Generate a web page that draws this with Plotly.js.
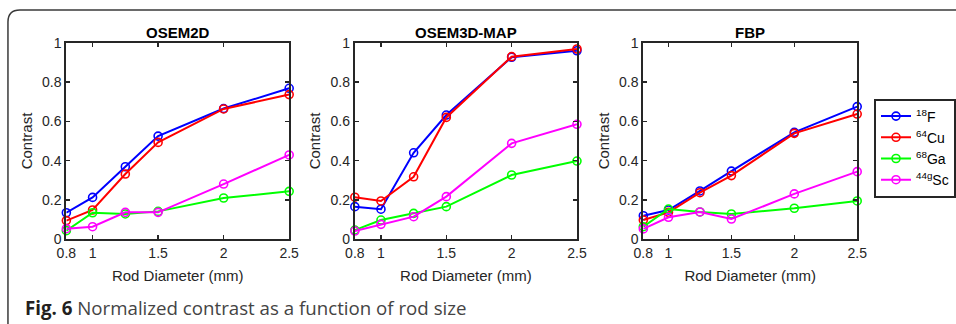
<!DOCTYPE html>
<html>
<head>
<meta charset="utf-8">
<script src="https://cdn.plot.ly/plotly-3.0.1.min.js"></script>
<style>
html,body{margin:0;padding:0;background:#fff;}
#chart{width:956px;height:324px;}
</style>
</head>
<body>
<div id="chart"></div>
<script>
// ---- data ----
const rodDiameter = [0.8, 1, 1.25, 1.5, 2, 2.5];
const xTickVals = [0.8, 1, 1.5, 2, 2.5];
const xTickText = ["0.8", "1", "1.5", "2", "2.5"];
const yTickVals = [0, 0.2, 0.4, 0.6, 0.8, 1];
const yTickText = ["0", "0.2", "0.4", "0.6", "0.8", "1"];
const panelTitles = ["OSEM2D", "OSEM3D-MAP", "FBP"];
const seriesNames = ["<sup>18</sup>F", "<sup>64</sup>Cu", "<sup>68</sup>Ga", "<sup>44g</sup>Sc"];
const seriesColors = ["#0000ff", "#ff0000", "#00ff00", "#ff00ff"];

// OSEM2D
const osem2d_F  = [0.135, 0.213, 0.369, 0.525, 0.665, 0.768];
const osem2d_Cu = [0.095, 0.149, 0.332, 0.493, 0.663, 0.736];
const osem2d_Ga = [0.044, 0.135, 0.129, 0.142, 0.210, 0.244];
const osem2d_Sc = [0.054, 0.064, 0.137, 0.137, 0.281, 0.429];
// OSEM3D-MAP
const osem3d_F  = [0.166, 0.153, 0.440, 0.632, 0.926, 0.959];
const osem3d_Cu = [0.214, 0.195, 0.318, 0.620, 0.929, 0.968];
const osem3d_Ga = [0.047, 0.098, 0.132, 0.166, 0.327, 0.398];
const osem3d_Sc = [0.042, 0.076, 0.115, 0.217, 0.488, 0.585];
// FBP
const fbp_F  = [0.120, 0.149, 0.246, 0.347, 0.544, 0.675];
const fbp_Cu = [0.098, 0.137, 0.237, 0.324, 0.539, 0.637];
const fbp_Ga = [0.064, 0.154, 0.139, 0.129, 0.158, 0.195];
const fbp_Sc = [0.053, 0.112, 0.139, 0.103, 0.231, 0.344];

const panels = [
  [osem2d_F, osem2d_Cu, osem2d_Ga, osem2d_Sc],
  [osem3d_F, osem3d_Cu, osem3d_Ga, osem3d_Sc],
  [fbp_F, fbp_Cu, fbp_Ga, fbp_Sc]
];

// ---- layout geometry (pixels) ----
const W = 956, H = 324;
const px = v => v / W;
const py = v => 1 - v / H;
const xDomains = [[66.7, 290.7], [356.7, 580], [646.7, 861.7]];
const yDomain = [py(239.3), py(42.7)];

const traces = [];
panels.forEach((series, p) => {
  series.forEach((ys, s) => {
    traces.push({
      x: rodDiameter, y: ys,
      type: 'scatter', mode: 'lines+markers',
      name: seriesNames[s],
      legendgroup: 'g' + s,
      showlegend: p === 2,
      xaxis: p === 0 ? 'x' : 'x' + (p + 1),
      yaxis: p === 0 ? 'y' : 'y' + (p + 1),
      cliponaxis: false,
      line: {color: seriesColors[s], width: 2},
      marker: {symbol: 'circle-open', size: 8, color: seriesColors[s], line: {width: 1.6, color: seriesColors[s]}}
    });
  });
});

const arial = 'Liberation Sans, Arial, sans-serif';
const tickFont = {family: arial, size: 14, color: '#262626'};
const titleFont = {family: arial, size: 15, color: '#262626'};

const layout = {
  width: W, height: H,
  margin: {l: 0, r: 0, t: 0, b: 0},
  paper_bgcolor: '#fff', plot_bgcolor: '#fff',
  showlegend: true,
  legend: {
    x: px(879), y: py(98.5), xanchor: 'left', yanchor: 'top',
    bgcolor: '#fff', bordercolor: '#262626', borderwidth: 2,
    font: {family: arial, size: 14, color: '#000'},
    tracegroupgap: 0, itemwidth: 30
  },
  annotations: [],
  shapes: [{
    type: 'path', xref: 'paper', yref: 'paper',
    path: `M ${px(8)},-0.02 L ${px(8)},${py(22)} Q ${px(8)},${py(10)} ${px(20)},${py(10)} L 1.02,${py(10)}`,
    line: {color: '#3a3a3a', width: 1.5}
  }]
};

for (let p = 0; p < 3; p++) {
  const xa = p === 0 ? 'xaxis' : 'xaxis' + (p + 1);
  const ya = p === 0 ? 'yaxis' : 'yaxis' + (p + 1);
  layout[xa] = {
    domain: [px(xDomains[p][0]), px(xDomains[p][1])],
    anchor: p === 0 ? 'y' : 'y' + (p + 1),
    range: [0.8, 2.5], tickvals: xTickVals, ticktext: xTickText,
    ticks: 'inside', ticklen: 4, tickwidth: 1.5, tickcolor: '#262626',
    showline: true, linecolor: '#262626', linewidth: 2, mirror: 'allticks',
    showgrid: false, zeroline: false, tickfont: tickFont,
    title: {text: 'Rod Diameter (mm)', font: titleFont, standoff: 10}
  };
  layout[ya] = {
    domain: yDomain,
    anchor: p === 0 ? 'x' : 'x' + (p + 1),
    range: [0, 1], tickvals: yTickVals, ticktext: yTickText,
    ticks: 'inside', ticklen: 4, tickwidth: 1.5, tickcolor: '#262626',
    showline: true, linecolor: '#262626', linewidth: 2, mirror: 'allticks',
    showgrid: false, zeroline: false, tickfont: tickFont,
    title: {text: 'Contrast', font: titleFont, standoff: 6}
  };
  layout.annotations.push({
    text: '<b>' + panelTitles[p] + '</b>', xref: 'paper', yref: 'paper',
    x: px((xDomains[p][0] + xDomains[p][1]) / 2), y: py(32),
    xanchor: 'center', yanchor: 'middle', showarrow: false,
    font: {family: arial, size: 15, color: '#000'}
  });
}

layout.annotations.push({
  text: '<b><span style="color:#231f20">Fig. 6</span></b> Normalized contrast as a function of rod size',
  xref: 'paper', yref: 'paper', x: px(23), y: py(307),
  xanchor: 'left', yanchor: 'middle', showarrow: false,
  font: {family: 'Open Sans, sans-serif', size: 18.7, color: '#444'}
});

Plotly.newPlot('chart', traces, layout, {displayModeBar: false, staticPlot: true});
</script>
</body>
</html>
